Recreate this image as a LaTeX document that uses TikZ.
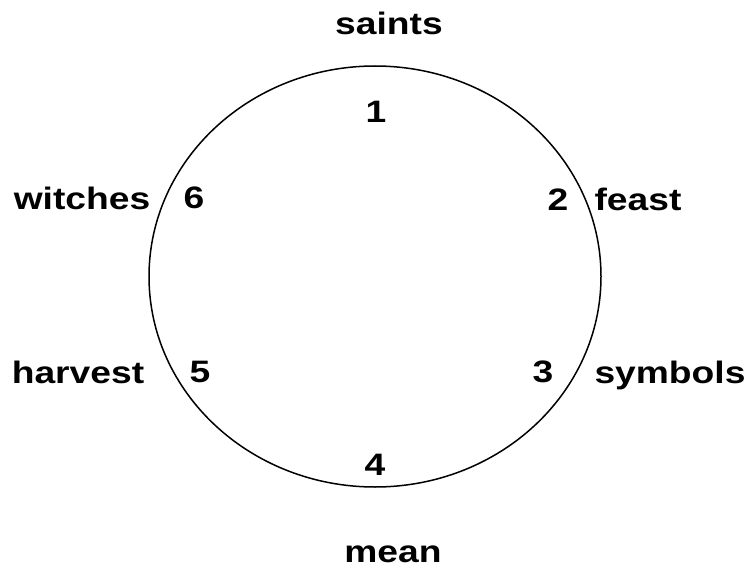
\documentclass[tikz,border=0pt]{standalone}
\usepackage{fontspec}
\setmainfont{Liberation Sans}
\usepackage{graphicx}
\usetikzlibrary{positioning}
\newcommand{\widen}[1]{\scalebox{1.2}[1]{#1}}
\tikzset{
  cycleRing/.style={
    draw=black,
    line width=1.5pt
  },
  stepNum/.style={
    inner sep=0pt,
    font=\fontsize{31}{31}\selectfont\bfseries
  },
  stepWord/.style={
    inner sep=0pt,
    anchor=base,
    font=\fontsize{31}{31}\selectfont\bfseries
  }
}
\begin{document}
\begin{tikzpicture}[x=1pt, y=-1pt]
  \useasboundingbox (0,0) rectangle (749,572);
  % Ring
  \draw[cycleRing] (375,276.5) ellipse [x radius=226, y radius=210.5];
  % Numbers inside the ring
  \node[stepNum] (n1) at (376,112) {\widen{1}};
  \node[stepNum] (n2) at (558,200) {\widen{2}};
  \node[stepNum] (n3) at (543,372) {\widen{3}};
  \node[stepNum] (n4) at (375,465) {\widen{4}};
  \node[stepNum] (n5) at (200,372) {\widen{5}};
  \node[stepNum] (n6) at (194,198) {\widen{6}};
  % Words outside the ring
  \node[stepWord] (saints) at (389,35) {\widen{saints}};
  \node[stepWord] (feast) at (638,211) {\widen{feast}};
  \node[stepWord] (symbols) at (670,383) {\widen{symbols}};
  \node[stepWord] (mean) at (393,562) {\widen{mean}};
  \node[stepWord] (harvest) at (78,383) {\widen{harvest}};
  \node[stepWord] (witches) at (82,209) {\widen{witches}};
\end{tikzpicture}
\end{document}
